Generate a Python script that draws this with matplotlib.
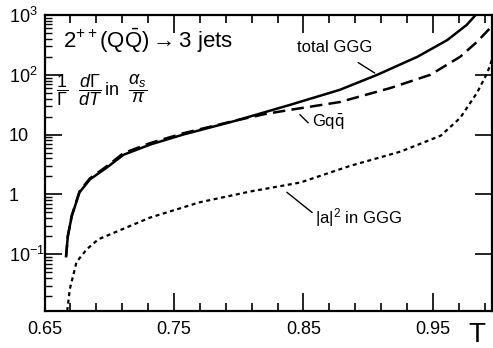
#! /usr/bin/env python3

import matplotlib
matplotlib.use("Agg")
import matplotlib.pyplot as plt
import numpy as np

plt.rcParams['font.family'] = ['Liberation Sans', 'DejaVu Sans']
plt.rcParams['mathtext.fontset'] = 'custom'
plt.rcParams['mathtext.rm'] = 'Liberation Sans'
plt.rcParams['mathtext.it'] = 'Liberation Sans:italic'
plt.rcParams['mathtext.bf'] = 'Liberation Sans:bold'

# total GGG (solid)
T_total = [0.6666, 0.668, 0.671, 0.677, 0.685, 0.698, 0.711, 0.7315, 0.757,
           0.7956, 0.84, 0.878, 0.907, 0.938, 0.961, 0.976, 0.983]
v_total = [0.089, 0.2, 0.43, 1.08, 1.78, 2.8, 4.6, 6.8, 10,
           16.6, 31.6, 56, 100, 200, 380, 680, 1000]

# G q qbar (dashed)
T_gqq = [0.6666, 0.668, 0.671, 0.677, 0.685, 0.698, 0.711, 0.7315, 0.757,
         0.7956, 0.82, 0.84, 0.878, 0.917, 0.948, 0.971, 0.984, 0.994, 0.998]
v_gqq = [0.089, 0.2, 0.44, 1.12, 1.85, 2.95, 4.9, 7.2, 10.5,
         16.8, 22, 26, 35, 60, 100, 200, 355, 600, 760]

# |a|^2 in GGG (dotted)
T_a2 = [0.6675, 0.6682, 0.6695, 0.6747, 0.6826, 0.6916, 0.7315, 0.770,
        0.809, 0.8475, 0.886, 0.925, 0.956, 0.971, 0.984, 0.992, 0.997]
v_a2 = [0.0112, 0.0147, 0.026, 0.074, 0.121, 0.178, 0.41, 0.74,
        1.12, 1.58, 3.0, 5.2, 9.6, 19, 50, 108, 220]

xmaj = [0.65, 0.75, 0.85, 0.95]
xmin = [0.67, 0.69, 0.71, 0.73, 0.77, 0.79, 0.81, 0.83,
        0.87, 0.89, 0.91, 0.93, 0.97, 0.99]
ydec = [0.1, 1, 10, 100, 1000]
ylabels = [r'10$^{-1}$', '1', '10', r'10$^2$', r'10$^3$']

fig = plt.figure(figsize=(4.93, 3.48), dpi=100)
ax = fig.add_axes([0.0903, 0.106, 0.9077, 0.851])

ax.plot(T_total, v_total, color='black', lw=1.8, solid_capstyle='butt')
ax.plot(T_gqq, v_gqq, color='black', lw=1.8, dashes=(5, 2.5))
ax.plot(T_a2, v_a2, color='black', lw=1.6, dashes=(1.8, 1.6))

ax.set_yscale('log')
ax.set_xlim(0.65, 0.9956)
ax.set_ylim(0.0112, 1000)

ax.set_xticks(xmaj)
ax.set_xticklabels(['0.65', '0.75', '0.85', '0.95'])
ax.set_xticks(xmin, minor=True)
ax.set_yticks(ydec)
ax.set_yticklabels(ylabels)

ax.tick_params(axis='x', which='major', direction='in', top=True,
               length=13, width=1.2, labelsize=13, pad=7)
ax.tick_params(axis='x', which='minor', direction='in', top=True,
               length=6, width=1.2)
ax.tick_params(axis='y', which='major', direction='in', right=True,
               length=12, width=1.2, labelsize=13, pad=25.5)
ax.tick_params(axis='y', which='minor', direction='in', right=False,
               length=5, width=1)
for lab in ax.get_yticklabels():
    lab.set_horizontalalignment('left')
for sp in ax.spines.values():
    sp.set_linewidth(1.6)

# annotations
ax.text(0.664, 370, r'2$^{++}$(Q$\bar{\mathrm{Q}}$)$\rightarrow$3 jets',
        fontsize=16, va='center', ha='left')
ax.text(0.6592, 56,
        r'$\dfrac{1}{\Gamma}\ \ \dfrac{d\Gamma}{dT}\,\mathrm{in}\ \ \dfrac{\alpha_s}{\pi}$',
        fontsize=13, va='center', ha='left')

ax.annotate('total GGG', xy=(0.905, 107), xytext=(0.8743, 282),
            fontsize=12, ha='center', va='center',
            arrowprops=dict(arrowstyle='-', lw=1, shrinkA=6, shrinkB=0))
ax.plot([0.8473, 0.8535], [21.5, 15.8], color='black', lw=1)
ax.text(0.8566, 15.8, r'Gq$\bar{\mathrm{q}}$', fontsize=12, va='center', ha='left')
ax.plot([0.8373, 0.8566], [1.08, 0.5], color='black', lw=1)
ax.text(0.8589, 0.41, r'|a|$^2$ in GGG', fontsize=12, va='center', ha='left')

fig.text(477 / 493, 1 - 335 / 348, 'T', fontsize=20, ha='center', va='center')

plt.savefig("out.png", dpi=100)
